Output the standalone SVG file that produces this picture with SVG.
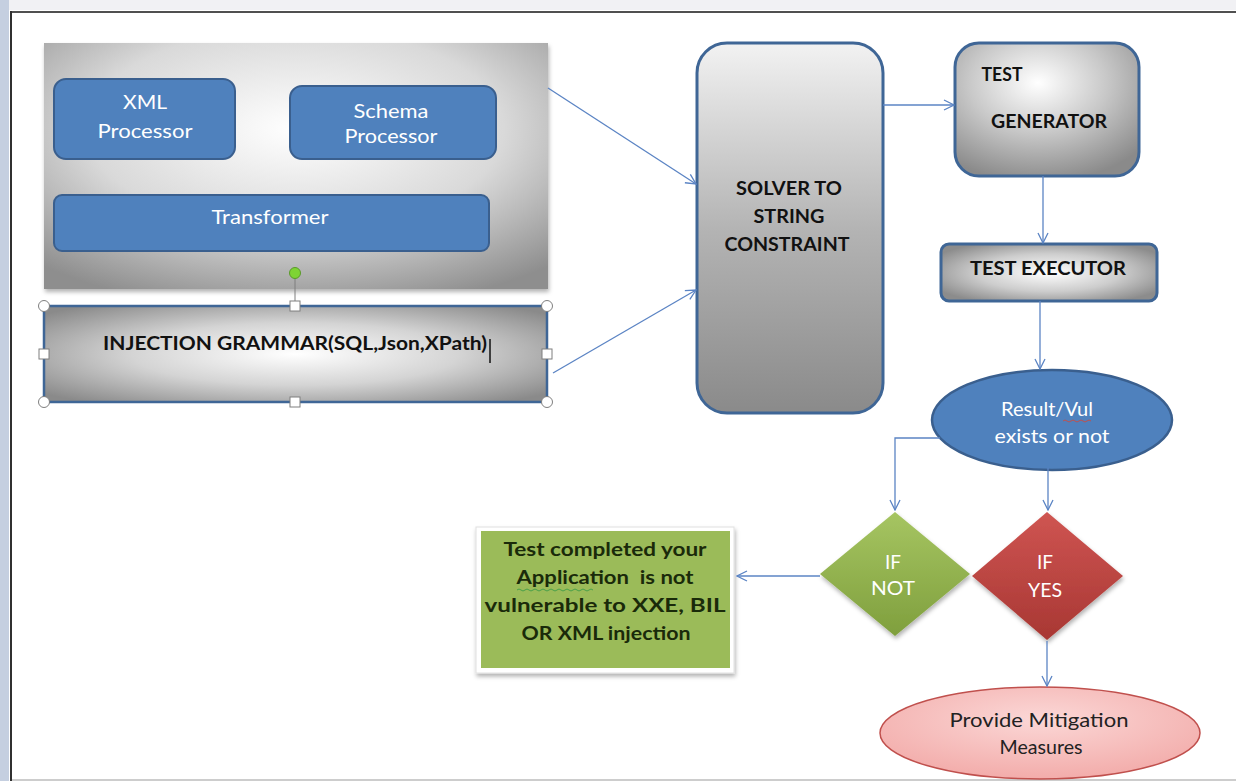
<svg xmlns="http://www.w3.org/2000/svg" width="1236" height="781" viewBox="0 0 1236 781">
<defs>
<radialGradient id="gBig" cx="0.5" cy="0.35" r="0.75">
<stop offset="0" stop-color="#ffffff"/><stop offset="0.55" stop-color="#d9d9d9"/><stop offset="1" stop-color="#8e8e8e"/>
</radialGradient>
<radialGradient id="gInj" cx="0.5" cy="0.5" r="0.65">
<stop offset="0" stop-color="#ffffff"/><stop offset="0.5" stop-color="#d4d4d4"/><stop offset="1" stop-color="#8a8a8a"/>
</radialGradient>
<linearGradient id="gSolver" x1="0" y1="0" x2="0" y2="1">
<stop offset="0" stop-color="#f2f2f2"/><stop offset="0.5" stop-color="#b4b4b4"/><stop offset="1" stop-color="#8a8a8a"/>
</linearGradient>
<radialGradient id="gGen" cx="0.45" cy="0.3" r="0.75">
<stop offset="0" stop-color="#ffffff"/><stop offset="0.5" stop-color="#c8c8c8"/><stop offset="1" stop-color="#8a8a8a"/>
</radialGradient>
<radialGradient id="gExe" cx="0.5" cy="0.5" r="0.6">
<stop offset="0" stop-color="#ffffff"/><stop offset="0.55" stop-color="#cdcdcd"/><stop offset="1" stop-color="#8c8c8c"/>
</radialGradient>
<linearGradient id="gGreen" x1="0" y1="0" x2="0" y2="1">
<stop offset="0" stop-color="#a6c562"/><stop offset="1" stop-color="#7f9f3d"/>
</linearGradient>
<linearGradient id="gRed" x1="0" y1="0" x2="0" y2="1">
<stop offset="0" stop-color="#cf5552"/><stop offset="1" stop-color="#a83733"/>
</linearGradient>
<radialGradient id="gPink" cx="0.5" cy="0.35" r="0.7">
<stop offset="0" stop-color="#fbd7d6"/><stop offset="1" stop-color="#f2a9a7"/>
</radialGradient>
<marker id="arr" viewBox="0 0 12 12" refX="11" refY="6" markerWidth="12" markerHeight="12" markerUnits="userSpaceOnUse" orient="auto">
<path d="M1,1 L11,6 L1,11" fill="none" stroke="#5b84c4" stroke-width="1.3"/>
</marker>
<filter id="sh" x="-10%" y="-10%" width="120%" height="130%">
<feDropShadow dx="1" dy="3" stdDeviation="2" flood-color="#000" flood-opacity="0.3"/>
</filter>
</defs>
<style>
.blue{fill:#4f81bd;stroke:#3a5f8e;stroke-width:2}
.wt{font-family:Lato,"Liberation Sans",sans-serif;font-size:19px;fill:#ffffff;text-anchor:middle}
.bk{font-family:Lato,"Liberation Sans",sans-serif;font-weight:bold;font-size:19px;fill:#111111;text-anchor:middle}
.gt{fill:#1a2a0a}
.gbox{stroke:#3f6696;stroke-width:3}
.conn{fill:none;stroke:#5b84c4;stroke-width:1.3;marker-end:url(#arr)}
.hd{fill:#ffffff;stroke:#7f7f7f;stroke-width:1}
</style>
<rect width="1236" height="781" fill="#ffffff"/>
<g id="frame">
<rect x="0" y="0" width="9" height="781" fill="#c5cfe0"/>
<rect x="9" y="0" width="1227" height="10" fill="#f1f1f4"/>
<line x1="10" y1="12" x2="1236" y2="12" stroke="#505050" stroke-width="2"/>
<line x1="11" y1="11" x2="11" y2="781" stroke="#303030" stroke-width="2"/>
<line x1="12" y1="780" x2="1236" y2="780" stroke="#bdbdbd" stroke-width="1.5"/>
</g>
<g id="processing-group">
<rect x="44" y="43" width="504" height="246" fill="url(#gBig)" filter="url(#sh)"/>
</g>
<g id="xml-processor">
<rect class="blue" x="54" y="79" width="181" height="80" rx="12"/>
<text class="wt" x="145" y="109" textLength="44" lengthAdjust="spacingAndGlyphs">XML</text>
<text class="wt" x="145" y="138" textLength="95" lengthAdjust="spacingAndGlyphs">Processor</text>
</g>
<g id="schema-processor">
<rect class="blue" x="290" y="86" width="206" height="73" rx="12"/>
<text class="wt" x="391" y="118" textLength="75" lengthAdjust="spacingAndGlyphs">Schema</text>
<text class="wt" x="391" y="143" textLength="93" lengthAdjust="spacingAndGlyphs">Processor</text>
</g>
<g id="transformer">
<rect class="blue" x="54" y="195" width="435" height="56" rx="8"/>
<text class="wt" x="270" y="224" textLength="117" lengthAdjust="spacingAndGlyphs">Transformer</text>
</g>
<g id="injection-grammar">
<rect x="44" y="306" width="503" height="96" fill="url(#gInj)" stroke="#3f6696" stroke-width="2.5"/>
<text class="bk" x="295" y="350" font-size="18" textLength="384" lengthAdjust="spacingAndGlyphs">INJECTION GRAMMAR(SQL,Json,XPath)</text>
<line x1="490" y1="339" x2="490" y2="363" stroke="#111" stroke-width="1.5"/>
<line x1="295" y1="278" x2="295" y2="301" stroke="#7f7f7f" stroke-width="1"/>
<circle cx="295" cy="273" r="5.5" fill="#7ed434" stroke="#5a9a2a" stroke-width="1"/>
<rect class="hd" x="290" y="301" width="10" height="10"/>
<rect class="hd" x="290" y="397" width="10" height="10"/>
<rect class="hd" x="39" y="349" width="10" height="10"/>
<rect class="hd" x="542" y="349" width="10" height="10"/>
<circle class="hd" cx="44" cy="306" r="5.5"/>
<circle class="hd" cx="547" cy="306" r="5.5"/>
<circle class="hd" cx="44" cy="402" r="5.5"/>
<circle class="hd" cx="547" cy="402" r="5.5"/>
</g>
<g id="solver">
<rect class="gbox" x="697" y="43" width="186" height="370" rx="30" fill="url(#gSolver)"/>
<text class="bk" x="789" y="195" textLength="106" lengthAdjust="spacingAndGlyphs">SOLVER TO</text>
<text class="bk" x="789" y="223" textLength="71" lengthAdjust="spacingAndGlyphs">STRING</text>
<text class="bk" x="787" y="251" textLength="125" lengthAdjust="spacingAndGlyphs">CONSTRAINT</text>
</g>
<g id="test-generator">
<rect class="gbox" x="955" y="43" width="184" height="133" rx="24" fill="url(#gGen)"/>
<text class="bk" x="1002" y="81" textLength="41" lengthAdjust="spacingAndGlyphs">TEST</text>
<text class="bk" x="1049" y="128" textLength="116" lengthAdjust="spacingAndGlyphs">GENERATOR</text>
</g>
<g id="test-executor">
<rect class="gbox" x="941" y="244" width="216" height="57" rx="8" fill="url(#gExe)"/>
<text class="bk" x="1048" y="275" textLength="156" lengthAdjust="spacingAndGlyphs">TEST EXECUTOR</text>
</g>
<g id="result">
<ellipse cx="1052" cy="420" rx="120" ry="50" fill="#4f81bd" stroke="#3a5f8e" stroke-width="2.5"/>
<text class="wt" x="1047" y="416" textLength="92" lengthAdjust="spacingAndGlyphs">Result/Vul</text>
<text class="wt" x="1052" y="443" textLength="115" lengthAdjust="spacingAndGlyphs">exists or not</text>
<path d="M1063,421 q2,-2 4,0 t4,0 t4,0 t4,0 t4,0 t4,0 t4,0" fill="none" stroke="#c0504d" stroke-width="1"/>
</g>
<g id="if-not">
<polygon points="895,512 970,574 895,636 820,574" fill="url(#gGreen)" filter="url(#sh)"/>
<text class="wt" x="893" y="569">IF</text>
<text class="wt" x="893" y="595" textLength="44" lengthAdjust="spacingAndGlyphs">NOT</text>
</g>
<g id="if-yes">
<polygon points="1047,512 1123,576 1047,640 972,576" fill="url(#gRed)" filter="url(#sh)"/>
<text class="wt" x="1045" y="569">IF</text>
<text class="wt" x="1045" y="597" textLength="34" lengthAdjust="spacingAndGlyphs">YES</text>
</g>
<g id="not-vulnerable">
<rect x="476" y="527" width="258" height="146" fill="#ffffff" stroke="#e0e0e0" stroke-width="1" filter="url(#sh)"/>
<rect x="481" y="531" width="249" height="137" fill="#9bbb59"/>
<text class="bk gt" x="605" y="556" textLength="203" lengthAdjust="spacingAndGlyphs">Test completed your</text>
<text class="bk gt" x="605" y="584" textLength="177" lengthAdjust="spacingAndGlyphs" xml:space="preserve">Application  is not</text>
<text class="bk gt" x="605" y="612" textLength="241" lengthAdjust="spacingAndGlyphs">vulnerable to XXE, BIL</text>
<text class="bk gt" x="606" y="640" textLength="169" lengthAdjust="spacingAndGlyphs">OR XML injection</text>
<path d="M517,590 q2,-2 4,0 t4,0 t4,0 t4,0 t4,0 t4,0 t4,0 t4,0 t4,0 t4,0 t4,0 t4,0 t4,0 t4,0 t4,0 t4,0 t4,0 t4,0 t4,0" fill="none" stroke="#4aa04a" stroke-width="1"/>
</g>
<g id="mitigation">
<ellipse cx="1040" cy="733" rx="160" ry="46" fill="url(#gPink)" stroke="#c0504d" stroke-width="1.5"/>
<text class="wt" x="1039" y="727" style="fill:#222222" textLength="179" lengthAdjust="spacingAndGlyphs">Provide Mitigation</text>
<text class="wt" x="1041" y="754" style="fill:#222222" textLength="83" lengthAdjust="spacingAndGlyphs">Measures</text>
</g>
<g id="connectors">
<line class="conn" x1="548" y1="88" x2="696" y2="184"/>
<line class="conn" x1="553" y1="373" x2="696" y2="290"/>
<line class="conn" x1="883" y1="105" x2="954" y2="105"/>
<line class="conn" x1="1043" y1="176" x2="1043" y2="243"/>
<line class="conn" x1="1040" y1="301" x2="1040" y2="369"/>
<polyline class="conn" points="940,438 895,438 895,510"/>
<line class="conn" x1="1048" y1="468" x2="1048" y2="510"/>
<line class="conn" x1="820" y1="576" x2="737" y2="576"/>
<line class="conn" x1="1047" y1="641" x2="1047" y2="686"/>
</g>
</svg>
